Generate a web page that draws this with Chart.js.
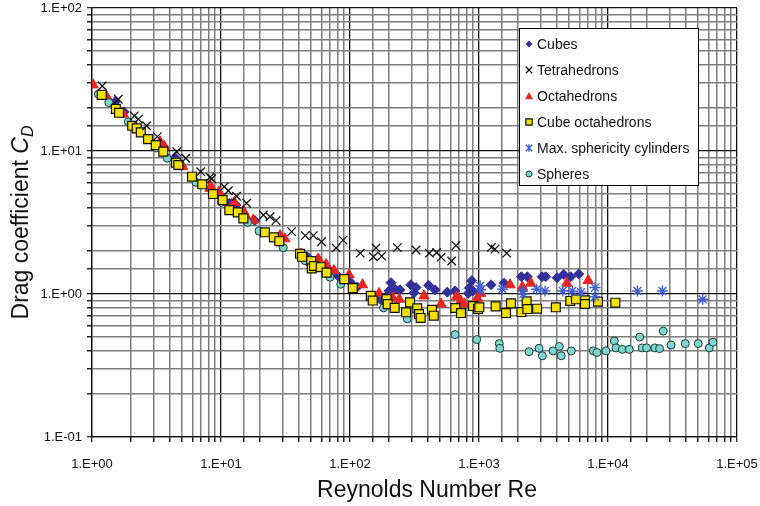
<!DOCTYPE html>
<html><head><meta charset="utf-8">
<script src="https://cdn.jsdelivr.net/npm/chart.js@4.4.1/dist/chart.umd.min.js"></script>
<style>html,body{margin:0;padding:0;background:#fff;}#wrap{width:760px;height:506px;}</style>
</head><body><div id="wrap"><canvas id="c" width="760" height="506"></canvas></div>
<script>
const seriesNames = ['Cubes','Tetrahedrons','Octahedrons','Cube octahedrons','Max. sphericity cylinders','Spheres'];
const xTitle = 'Reynolds Number Re';
const yTitleMain = 'Drag coefficient ';
const yTitleSym = 'C';
const yTitleSub = 'D';

const cubesRe = [1.51,1.77,3.57,4.4,9.85,11.6,12.1,13.1,18.3,46.7,55.8,65.2,80.3,101,114,171,200,208,223,244,296,313,325,407,456,568,652,826,841,878,898,1240,1563,2130,2370,3080,3290,4030,4540,5140,5930];
const cubesCd = [22.1,18.8,10.7,9.0,4.8,4.31,4.3,4.19,3.26,1.82,1.73,1.51,1.34,1.21,1.12,0.918,1.05,1.20,1.08,1.07,1.16,1.02,1.11,1.15,1.07,1.03,1.05,1.01,1.10,1.24,1.05,1.16,1.19,1.32,1.32,1.32,1.32,1.30,1.37,1.32,1.38];

const tetraRe = [1.20,1.60,2.13,2.29,2.65,3.21,4.54,5.33,6.96,8.22,8.48,10.6,11.4,13.2,15.8,21.3,24.0,26.7,35.3,45.0,52.0,60.1,77.9,88.3,120,152,159,176,233,325,412,470,508,614,663,1250,1330,1640];
const tetraCd = [28.5,23.0,17.6,16.7,15.0,12.6,9.89,8.89,7.17,6.55,6.40,5.62,5.27,4.83,4.31,3.57,3.47,3.26,2.73,2.56,2.56,2.32,2.10,2.38,1.93,1.82,2.10,1.84,2.11,2.03,1.93,1.95,1.81,1.70,2.18,2.12,2.06,1.93];

const octaRe = [1.02,1.30,1.75,3.37,3.63,5.05,8.22,8.36,9.65,12.7,14.9,15.6,17.8,28.7,31.3,41.7,56.8,65.2,75.2,98.3,125,168,214,241,375,508,671,722,769,970,1030,1740,2170,2520,4790,7030];
const octaCd = [29.0,24.0,18.1,11.6,10.8,7.76,5.48,5.62,5.19,4.38,3.80,3.51,3.29,2.56,2.43,1.90,1.76,1.61,1.46,1.36,1.16,1.01,0.94,0.918,0.97,0.85,0.957,0.893,0.851,0.933,1.01,1.16,1.12,1.19,1.19,1.24];

const cubeOctaRe = [1.19,1.53,1.62,2.05,2.22,2.39,2.72,3.12,3.57,4.48,4.67,5.96,7.16,8.67,10.3,11.6,13.5,14.9,21.9,25.7,28.3,41,42.5,50.1,50.5,52.6,59.3,65.9,90.3,105,145,150,192,196,222,272,292,332,343,353,432,446,655,725,898,982,1005,1346,1620,1770,2130,2340,2370,2820,3940,5100,5650,6630,6630,8360,11400];
const cubeOctaCd = [24.7,19.7,18.5,15.0,14.4,13.5,12.1,11.0,9.9,8.28,7.98,6.61,5.85,5.0,4.54,3.86,3.72,3.38,2.70,2.49,2.34,1.91,1.82,1.70,1.51,1.57,1.54,1.41,1.27,1.10,0.97,0.90,0.92,0.85,0.80,0.745,0.875,0.794,0.724,0.68,0.776,0.705,0.798,0.736,0.824,0.785,0.807,0.82,0.736,0.86,0.748,0.889,0.785,0.789,0.807,0.894,0.918,0.904,0.851,0.883,0.869];

const cylRe = [1020,1030,1517,2180,2200,2800,3250,4460,5290,6180,7930,7930,16900,26400,54200];
const cylCd = [1.14,1.07,1.08,1.05,1.00,1.08,1.05,1.05,1.05,1.03,1.11,0.957,1.05,1.05,0.918];

const sphRe = [1.12,1.35,1.91,3.15,3.83,6.4,10.1,16.1,19.7,30.4,44.8,70,84.7,182,278,652,960,1436,1450,2443,2920,3097,3750,4190,4340,5200,7690,8220,9640,11190,11530,12900,14600,17600,18400,19900,23100,25100,26800,30800,39700,50100,61000,65200];
const sphCd = [25.0,21.8,16.0,10.5,8.9,6.04,4.38,3.17,2.76,2.11,1.71,1.31,1.17,0.80,0.67,0.52,0.48,0.45,0.417,0.395,0.417,0.37,0.40,0.43,0.37,0.40,0.40,0.39,0.40,0.47,0.42,0.41,0.41,0.50,0.42,0.42,0.42,0.415,0.55,0.44,0.45,0.45,0.42,0.46];

const xMin = 1, xMax = 1e5, yMin = 0.1, yMax = 100;

function pts(xs, ys){ return xs.map((x,i)=>({x:x, y:ys[i]})); }
function isMajor(v){ const l = Math.log10(v); return Math.abs(l - Math.round(l)) < 1e-6; }
function fmt(v){ const e = Math.round(Math.log10(v)); return '1.E' + (e<0?'-':'+') + String(Math.abs(e)).padStart(2,'0'); }

const styles = [
  {pointStyle:'rectRot', radius:5, bg:'#34309a', bc:'#34309a', bw:1},
  {pointStyle:'crossRot', radius:6, bg:'#000', bc:'#111', bw:1.3},
  {pointStyle:'triangle', radius:6, bg:'#e8261e', bc:'#e8261e', bw:1},
  {pointStyle:'rect', radius:6.3, bg:'#f1e000', bc:'#111', bw:1.2},
  {pointStyle:'star', radius:5.5, bg:'#3f5fcf', bc:'#3f5fcf', bw:1.4},
  {pointStyle:'circle', radius:4, bg:'#7fd6cf', bc:'#1d3b3a', bw:1}
];
const dataSets = [pts(cubesRe,cubesCd), pts(tetraRe,tetraCd), pts(octaRe,octaCd), pts(cubeOctaRe,cubeOctaCd), pts(cylRe,cylCd), pts(sphRe,sphCd)];
const drawOrder = [6,1,5,3,2,4];

const datasets = seriesNames.map((n,i)=>({
  label:n, data:dataSets[i], pointStyle:styles[i].pointStyle, pointRadius:styles[i].radius,
  pointHoverRadius:styles[i].radius, backgroundColor:styles[i].bg, borderColor:styles[i].bc,
  pointBorderWidth:styles[i].bw, borderWidth:styles[i].bw, showLine:false, order:drawOrder[i]
}));

const FONT = '"Liberation Sans", Arial, Helvetica, sans-serif';

function drawMarker(ctx, st, x, y, r){
  ctx.save();
  ctx.fillStyle = st.bg; ctx.strokeStyle = st.bc; ctx.lineWidth = st.bw;
  ctx.beginPath();
  switch(st.pointStyle){
    case 'rectRot': ctx.moveTo(x, y-r); ctx.lineTo(x+r, y); ctx.lineTo(x, y+r); ctx.lineTo(x-r, y); ctx.closePath(); ctx.fill(); break;
    case 'crossRot': ctx.moveTo(x-r,y-r); ctx.lineTo(x+r,y+r); ctx.moveTo(x+r,y-r); ctx.lineTo(x-r,y+r); ctx.stroke(); break;
    case 'triangle': ctx.moveTo(x, y-r); ctx.lineTo(x+r, y+r*0.8); ctx.lineTo(x-r, y+r*0.8); ctx.closePath(); ctx.fill(); break;
    case 'rect': ctx.rect(x-r, y-r, 2*r, 2*r); ctx.fill(); ctx.stroke(); break;
    case 'star': ctx.moveTo(x-r,y-r); ctx.lineTo(x+r,y+r); ctx.moveTo(x+r,y-r); ctx.lineTo(x-r,y+r); ctx.moveTo(x,y-r*1.2); ctx.lineTo(x,y+r*1.2); ctx.stroke(); break;
    case 'circle': ctx.arc(x, y, r, 0, Math.PI*2); ctx.fill(); ctx.stroke(); break;
  }
  ctx.restore();
}

const extras = {
  id:'extras',
  afterDraw(chart){
    const ctx = chart.ctx;
    const ca = chart.chartArea;
    const lx = 519.5, ly = 28.5, lw = 179, lh = 157;
    ctx.save();
    ctx.fillStyle = '#fff'; ctx.fillRect(lx, ly, lw, lh);
    ctx.strokeStyle = '#000'; ctx.lineWidth = 1; ctx.strokeRect(lx, ly, lw, lh);
    ctx.font = '14px ' + FONT; ctx.fillStyle = '#111'; ctx.textBaseline = 'middle'; ctx.textAlign = 'left';
    const legendSizes = [3.5, 3.2, 4, 3.2, 3.2, 3];
    seriesNames.forEach((n,i)=>{
      const y = 44 + i*26;
      drawMarker(ctx, styles[i], 529, y, legendSizes[i]);
      ctx.fillStyle = '#111';
      ctx.fillText(n, 537, y+1);
    });
    ctx.font = '23px ' + FONT; ctx.textAlign = 'center'; ctx.textBaseline = 'middle';
    ctx.fillText(xTitle, 427, 491);
    ctx.translate(22, (ca.top+ca.bottom)/2);
    ctx.rotate(-Math.PI/2);
    const fN = '23px ' + FONT, fI = 'italic 23px ' + FONT, fS = 'italic 16px ' + FONT;
    ctx.font = fN; const w1 = ctx.measureText(yTitleMain).width;
    ctx.font = fI; const w2 = ctx.measureText(yTitleSym).width;
    ctx.font = fS; const w3 = ctx.measureText(yTitleSub).width;
    let sx = -(w1+w2+w3)/2;
    ctx.textAlign = 'left';
    ctx.font = fN; ctx.fillText(yTitleMain, sx, 0); sx += w1;
    ctx.font = fI; ctx.fillText(yTitleSym, sx, 0); sx += w2;
    ctx.font = fS; ctx.fillText(yTitleSub, sx, 7);
    ctx.restore();
  }
};

const gridCfg = {
  color: c => (c.tick && isMajor(c.tick.value)) ? '#111' : '#7d7d7d',
  lineWidth: c => (c.tick && isMajor(c.tick.value)) ? 1.3 : 1.5,
  tickColor: '#222', tickLength: 5, drawOnChartArea: true, drawTicks: true
};

new Chart(document.getElementById('c'), {
  type:'scatter',
  data:{datasets:datasets},
  options:{
    responsive:false, animation:false, devicePixelRatio:1,
    layout:{padding:{left:0, top:8, right:23, bottom:0}},
    plugins:{legend:{display:false}, tooltip:{enabled:false}},
    scales:{
      x:{type:'logarithmic', min:xMin, max:xMax,
        grid:gridCfg, border:{display:true, color:'#111', width:1.3},
        ticks:{autoSkip:false, maxRotation:0, padding:15, color:'#111', font:{family:FONT, size:13}, callback:(v)=> isMajor(v)? fmt(v) : ''},
        afterFit:(s)=>{ s.height = 69; s.paddingLeft = 0; s.paddingRight = 0; }
      },
      y:{type:'logarithmic', min:yMin, max:yMax,
        grid:gridCfg, border:{display:true, color:'#111', width:1.3},
        ticks:{autoSkip:false, padding:5, color:'#111', font:{family:FONT, size:13}, callback:(v)=> isMajor(v)? fmt(v) : ''},
        afterFit:(s)=>{ s.width = 92; s.paddingTop = 0; s.paddingBottom = 0; }
      }
    }
  },
  plugins:[extras]
});
</script></body></html>
